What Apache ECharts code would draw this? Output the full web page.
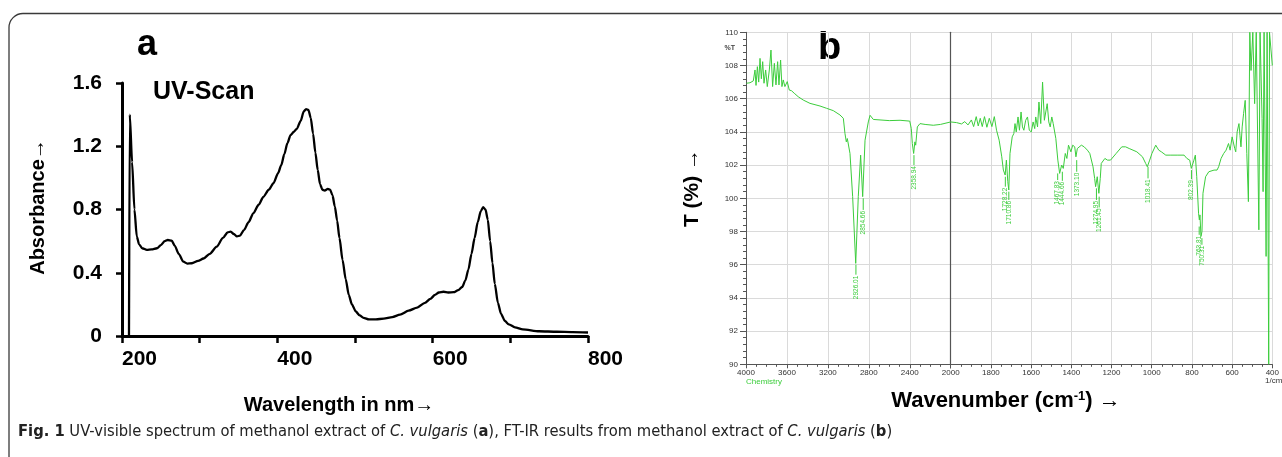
<!DOCTYPE html>
<html>
<head>
<meta charset="utf-8">
<script src="https://cdn.jsdelivr.net/npm/echarts@6/dist/echarts.min.js"></script>
<style>
html,body{margin:0;padding:0;background:#fff;}
#main{width:1282px;height:457px;}
</style>
</head>
<body>
<div id="main"></div>
<script>
// ---------- Panel a: UV-visible spectrum ----------
const uvWavelength = [209,210,213,216,219,222,226,232,238,245,250,255,259,264,268,273,279,284,290,298,305,313,322,330,336,340,344,348,352,357,363,369,376,382,389,395,401,405,409,413,417,421,425,430,434,437,440,443,446,449,452,455,458,461,465,468,471,474,477,480,484,488,492,496,501,506,511,518,527,537,548,558,569,580,590,597,603,608,614,620,627,633,638,642,646,650,654,658,662,665,668,671,674,677,680,684,688,693,698,706,716,737,760,780,800];
const uvAbsorbance = [0,1.40,1.10,0.80,0.63,0.58,0.555,0.545,0.548,0.555,0.575,0.60,0.607,0.603,0.57,0.52,0.47,0.458,0.46,0.475,0.49,0.52,0.565,0.62,0.655,0.66,0.645,0.63,0.635,0.67,0.72,0.776,0.83,0.88,0.925,0.966,1.03,1.08,1.15,1.22,1.27,1.29,1.31,1.36,1.42,1.435,1.43,1.38,1.28,1.16,1.05,0.96,0.925,0.92,0.93,0.925,0.89,0.82,0.73,0.62,0.48,0.36,0.26,0.20,0.155,0.13,0.115,0.105,0.105,0.11,0.12,0.135,0.16,0.18,0.21,0.235,0.26,0.275,0.28,0.275,0.277,0.29,0.31,0.35,0.42,0.52,0.62,0.72,0.79,0.815,0.80,0.735,0.60,0.46,0.33,0.21,0.14,0.095,0.074,0.055,0.042,0.03,0.027,0.025,0.022];
const uvXLabels = [200, 400, 600, 800];
const uvYLabels = ['0', '0.4', '0.8', '1.2', '1.6'];

// ---------- Panel b: FT-IR spectrum ----------
const irWavenumber = [3995,3961,3929,3912,3902,3889,3876,3863,3850,3837,3824,3808,3792,3772,3756,3740,3723,3707,3691,3678,3662,3649,3636,3620,3597,3577,3555,3529,3490,3441,3375,3277,3212,3147,3082,3049,3033,3020,3010,2984,2958,2928,2903,2880,2860,2837,2805,2788,2756,2600,2495,2400,2385,2375,2362,2350,2342,2326,2300,2250,2170,2100,2000,
1995,1971,1946,1930,1914,1897,1886,1873,1863,1853,1843,1832,1820,1808,1795,1783,1772,1759,1746,1738,1729,1723,1716,1711,1705,1694,1686,1680,1674,1665,1658,1650,1643,1636,1627,1618,1609,1599,1590,1582,1577,1568,1561,1552,1543,1534,1527,1520,1512,1505,1497,1490,1477,1467,1458,1448,1440,1430,1422,1414,1402,1393,1383,1377,1370,1364,1350,1336,1320,1308,1292,1284,1279,1271,1263,1256,1251,1233,1220,1205,1177,1149,1130,1112,1074,1046,1030,1022,1010,999,980,965,952,930,905,870,839,825,811,803,798,790,783,776,767,763,760,755,750,745,732,716,690,675,667,655,642,630,618,610,600,593,587,582,575,566,561,556,550,543,535,527,519,512,506,497,488,480,467,461,451,446,441,431,426,418,414,405,400];
const irTransmittance = [106.93,106.96,107.07,107.73,106.8,107.93,107.0,108.43,107.2,108.23,106.93,107.73,106.73,107.73,108.93,106.73,108.13,106.83,108.23,106.83,108.33,106.73,107.13,106.73,107.03,106.52,106.48,106.33,106.12,105.92,105.72,105.56,105.42,105.28,105.02,104.82,103.9,103.4,103.6,102.7,100.1,96.08,100.1,102.6,100.1,103.5,104.6,105.0,104.75,104.68,104.7,104.65,104.2,103.3,102.7,103.4,103.2,104.3,104.5,104.45,104.4,104.45,104.6,
104.62,104.56,104.48,104.62,104.42,104.72,104.32,104.92,104.36,104.82,104.32,104.92,104.28,104.82,104.32,104.92,104.1,103.5,102.5,101.7,101.4,102.3,101.0,100.5,102.7,103.7,103.9,104.5,104.0,104.9,104.1,105.2,104.3,104.1,104.7,104.9,104.1,104.0,104.6,104.2,104.9,104.3,105.8,104.5,107.0,104.7,105.2,105.7,104.6,104.3,104.9,104.5,103.6,102.3,101.5,102.0,101.8,102.7,102.4,103.2,102.8,103.2,103.1,102.5,103.0,103.0,103.2,103.1,102.9,102.7,101.9,101.2,100.7,101.3,100.3,101.2,102.1,102.4,102.3,102.3,102.7,103.1,103.1,103.0,102.8,102.5,102.1,101.9,102.3,102.7,103.2,102.9,102.8,102.6,102.6,102.6,102.6,102.4,102.3,101.8,101.7,102.3,102.6,101.3,99.1,98.7,99.0,97.7,98.0,100.3,101.3,101.6,101.7,101.7,101.9,102.4,102.7,102.9,103.3,102.9,103.7,103.6,103.0,102.8,104.0,104.5,103.8,103.1,104.3,105.1,105.9,102.7,99.8,110,107.7,110,105.7,110,98.1,110,104.8,100.4,110,96.5,110,90,110,110,108];
const irXLabelsLeft = [4000, 3600, 3200, 2800, 2400, 2000];
const irXLabelsRight = [1800, 1600, 1400, 1200, 1000, 800, 600, 400];
const peakWavenumber = [2926.01,2854.66,2358.94,1728.22,1710.86,1467.83,1444.66,1373.10,1274.95,1261.45,1018.41,802.39,763.81,750.31];
const peakLabel = ['2926.01','2854.66','2358.94','1728.22','1710.86','1467.83','1444.66','1373.10','1274.95','1261.45','1018.41','802.39','763.81','750.31'];
const peakLeaderStart = [96.0,100.0,102.6,101.3,100.4,101.5,101.6,102.3,100.6,100.1,101.9,101.7,98.3,97.6];
const peakLabelTop = [95.4,99.3,102.0,100.7,99.9,101.1,101.05,101.6,99.9,99.45,101.2,101.15,97.8,97.2];

const irLeft = [], irRight = [];
irWavenumber.forEach((w, i) => {
  if (w >= 2000) irLeft.push([w, irTransmittance[i]]);
  if (w <= 2000) irRight.push([w, irTransmittance[i]]);
});
const peaksLeft = [], peaksRight = [];
peakWavenumber.forEach((w, i) => {
  const item = [w, peakLeaderStart[i], peakLabelTop[i], i];
  if (w >= 2000) peaksLeft.push(item); else peaksRight.push(item);
});

const GREEN = '#3ccd3c';
const FONT = "'Liberation Sans', Arial, sans-serif";
const CAPFONT = "'Liberation Sans Narrow', 'DejaVu Sans Condensed', " + FONT;

function peakRender(params, api) {
  const idx = api.value(3);
  const p0 = api.coord([api.value(0), api.value(1)]);
  const p1 = api.coord([api.value(0), api.value(2)]);
  return {
    type: 'group',
    children: [
      { type: 'line', shape: { x1: p0[0], y1: p0[1], x2: p1[0], y2: p1[1] },
        style: { stroke: GREEN, lineWidth: 1 } },
      { type: 'text', x: p1[0], y: p1[1] + 1, rotation: Math.PI / 2,
        style: { text: peakLabel[idx], fill: GREEN, font: '6.5px ' + FONT,
                 align: 'right', verticalAlign: 'middle' } }
    ]
  };
}

const irAxisLabel = { fontSize: 8, color: '#333', fontFamily: FONT };
const gridLine = { show: true, lineStyle: { color: '#dadada', width: 1 } };

const chart = echarts.init(document.getElementById('main'), null, { renderer: 'canvas', width: 1282, height: 457 });

const option = {
  backgroundColor: '#fff',
  animation: false,
  grid: [
    { left: 122, top: 83, width: 466, height: 253 },
    { left: 746, top: 32.3, width: 204.7, height: 332 },
    { left: 950.7, top: 32.3, width: 326.9, height: 332 }
  ],
  xAxis: [
    { gridIndex: 0, type: 'value', min: 200, max: 800, interval: 100,
      axisLine: { show: true, lineStyle: { color: '#000', width: 3 } },
      axisTick: { show: true, length: 7, lineStyle: { color: '#000', width: 2.5 } },
      axisLabel: { margin: 13, color: '#000', fontSize: 21, fontWeight: 'bold', fontFamily: FONT, align: 'left',
        formatter: v => uvXLabels.indexOf(v) >= 0 ? String(v) : '' },
      splitLine: { show: false } },
    { gridIndex: 1, type: 'value', inverse: true, min: 2000, max: 4000, interval: 400,
      axisLine: { show: true, onZero: false, lineStyle: { color: '#555', width: 1 } },
      axisTick: { show: true, length: 4, lineStyle: { color: '#555' } },
      minorTick: { show: true, splitNumber: 4, length: 2.5, lineStyle: { color: '#555' } },
      axisLabel: Object.assign({ margin: 4, formatter: v => irXLabelsLeft.indexOf(v) >= 0 ? String(v) : '' }, irAxisLabel),
      splitLine: gridLine },
    { gridIndex: 2, type: 'value', inverse: true, min: 400, max: 2000, interval: 200,
      axisLine: { show: true, onZero: false, lineStyle: { color: '#555', width: 1 } },
      axisTick: { show: true, length: 4, lineStyle: { color: '#555' } },
      minorTick: { show: true, splitNumber: 4, length: 2.5, lineStyle: { color: '#555' } },
      axisLabel: Object.assign({ margin: 4, formatter: v => irXLabelsRight.indexOf(v) >= 0 ? String(v) : '' }, irAxisLabel),
      splitLine: gridLine }
  ],
  yAxis: [
    { gridIndex: 0, type: 'value', min: 0, max: 1.6, interval: 0.4,
      axisLine: { show: true, lineStyle: { color: '#000', width: 3 } },
      axisTick: { show: true, length: 6, lineStyle: { color: '#000', width: 2.5 } },
      axisLabel: { margin: 20, color: '#000', fontSize: 21, fontWeight: 'bold', fontFamily: FONT,
        formatter: v => uvYLabels[Math.round(v / 0.4)] },
      splitLine: { show: false } },
    { gridIndex: 1, type: 'value', min: 90, max: 110, interval: 2,
      axisLine: { show: true, onZero: false, lineStyle: { color: '#555', width: 1 } },
      axisTick: { show: true, length: 6, lineStyle: { color: '#555' } },
      minorTick: { show: true, splitNumber: 5, length: 3, lineStyle: { color: '#555' } },
      axisLabel: Object.assign({ margin: 8, formatter: v => String(v) }, irAxisLabel),
      splitLine: gridLine },
    { gridIndex: 2, type: 'value', min: 90, max: 110, interval: 2,
      axisLine: { show: true, onZero: false, lineStyle: { color: '#555', width: 1.2 } },
      axisTick: { show: false }, axisLabel: { show: false },
      splitLine: gridLine }
  ],
  series: [
    { type: 'line', xAxisIndex: 0, yAxisIndex: 0, showSymbol: false, symbol: 'none',
      smooth: 0.25, smoothMonotone: 'x',
      lineStyle: { color: '#000', width: 2.3 },
      data: uvWavelength.map((w, i) => [w, uvAbsorbance[i]]) },
    { type: 'line', xAxisIndex: 1, yAxisIndex: 1, showSymbol: false, symbol: 'none',
      lineStyle: { color: GREEN, width: 1 }, data: irLeft },
    { type: 'line', xAxisIndex: 2, yAxisIndex: 2, showSymbol: false, symbol: 'none',
      lineStyle: { color: GREEN, width: 1 }, data: irRight },
    { type: 'custom', xAxisIndex: 1, yAxisIndex: 1, renderItem: peakRender, data: peaksLeft, silent: true },
    { type: 'custom', xAxisIndex: 2, yAxisIndex: 2, renderItem: peakRender, data: peaksRight, silent: true }
  ],
  graphic: [
    { type: 'rect', shape: { x: 9, y: 13.5, width: 1300, height: 480, r: 14 },
      style: { fill: 'none', stroke: '#3a3a3a', lineWidth: 1.3 }, z: 0 },
    { type: 'text', x: 137, y: 45, style: { text: 'a', font: 'bold 36px ' + FONT, fill: '#000', align: 'left', verticalAlign: 'middle' } },
    { type: 'text', x: 153, y: 92.5, style: { text: 'UV-Scan', font: 'bold 25px ' + FONT, fill: '#000', align: 'left', verticalAlign: 'middle' } },
    { type: 'text', x: 38, y: 207, rotation: Math.PI / 2,
      style: { text: 'Absorbance\u2192', font: 'bold 20px ' + FONT, fill: '#000', align: 'center', verticalAlign: 'middle' } },
    { type: 'text', x: 339, y: 405, style: { text: 'Wavelength in nm\u2192', font: 'bold 20px ' + FONT, fill: '#000', align: 'center', verticalAlign: 'middle' } },
    { type: 'text', x: 818, y: 49, style: { text: 'b', font: 'bold 38px ' + FONT, fill: '#000', align: 'left', verticalAlign: 'middle' } },
    { type: 'text', x: 735, y: 48.5, style: { text: '%T', font: 'bold 7px ' + FONT, fill: '#444', align: 'right', verticalAlign: 'middle' } },
    { type: 'text', x: 692, y: 188, rotation: Math.PI / 2,
      style: { text: 'T (%) \u2192', font: 'bold 21px ' + FONT, fill: '#000', align: 'center', verticalAlign: 'middle' } },
    { type: 'text', x: 1006, y: 401,
      style: { text: '{n|Wavenumber (cm}{s|-1}{n|) \u2192}', align: 'center', verticalAlign: 'middle',
        rich: { n: { font: 'bold 22px ' + FONT, fill: '#000' },
                s: { font: 'bold 13px ' + FONT, fill: '#000', verticalAlign: 'top' } } } },
    { type: 'text', x: 746, y: 381.5, style: { text: 'Chemistry', font: '8px ' + FONT, fill: GREEN, align: 'left', verticalAlign: 'middle' } },
    { type: 'text', x: 1265, y: 381, style: { text: '1/cm', font: '8px ' + FONT, fill: '#333', align: 'left', verticalAlign: 'middle' } },
    { type: 'text', x: 18, y: 432,
      style: { text: '{b|Fig. 1} UV-visible spectrum of methanol extract of {i|C. vulgaris} ({b|a}), FT-IR results from methanol extract of {i|C. vulgaris} ({b|b})',
        font: '16.4px ' + CAPFONT, fill: '#222', align: 'left', verticalAlign: 'middle',
        rich: { b: { font: 'bold 16.4px ' + CAPFONT, fill: '#222' },
                i: { font: 'italic 16.4px ' + CAPFONT, fill: '#222' } } } }
  ]
};
chart.setOption(option);
</script>
</body>
</html>
